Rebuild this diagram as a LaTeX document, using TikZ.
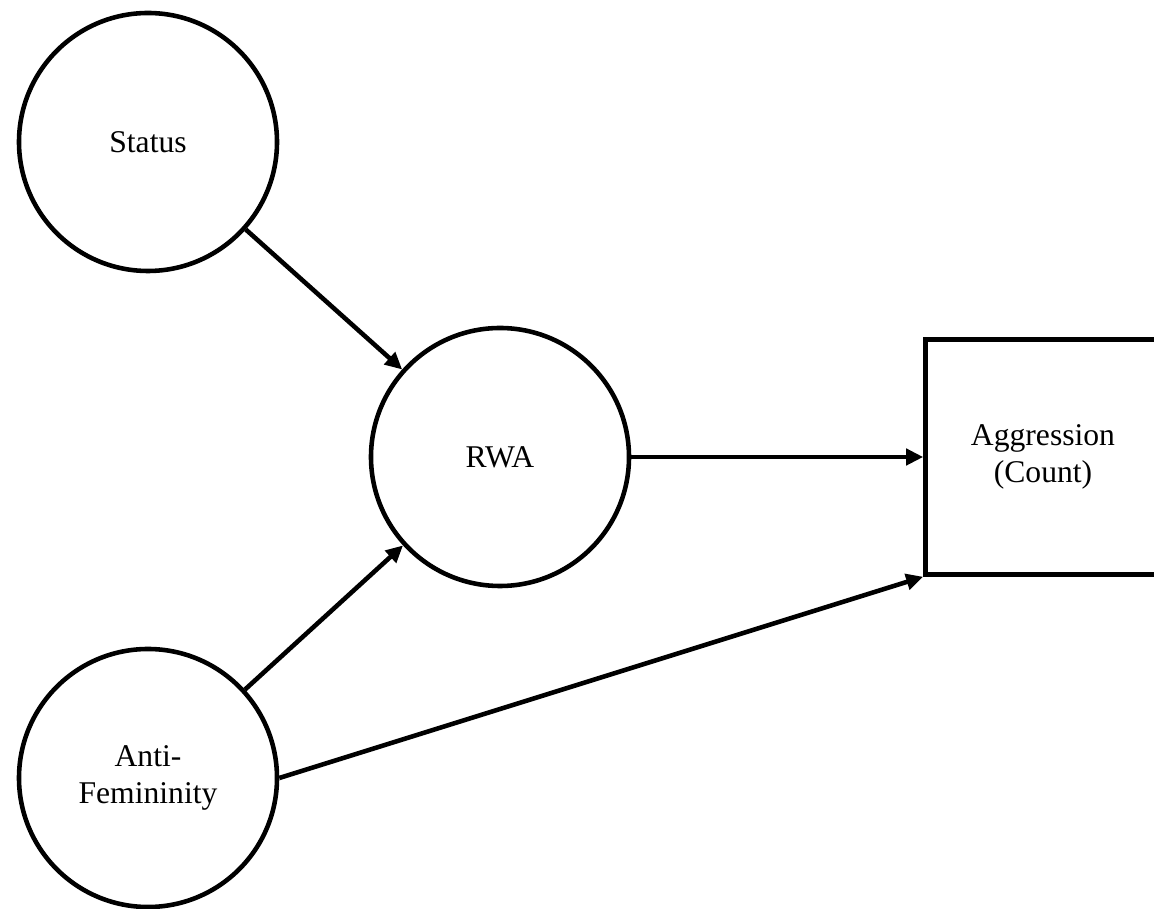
\documentclass[tikz,border=0pt]{standalone}
\usepackage{fontspec}
\setmainfont{Liberation Serif}
\usetikzlibrary{arrows.meta, positioning}

\begin{document}
\begin{tikzpicture}[
  latent/.style={circle, draw=black, line width=2.6pt, minimum size=5.16cm,
                 inner sep=0pt, align=center, font=\fontsize{18}{21.5}\selectfont},
  outcome/.style={rectangle, draw=black, line width=2.6pt, minimum width=4.7cm,
                  minimum height=4.7cm, align=center, font=\fontsize{18}{21.5}\selectfont},
  arr/.style={-{Triangle[length=3.4mm, width=3.2mm]}, line width=2.6pt}
]
\useasboundingbox (0,0) rectangle (23.08,18.18);
\clip (0,0) rectangle (23.08,18.18);

\node[latent] (status) at (2.96,15.34) {Status};
\node[latent] (rwa) at (10.0,9.04) {RWA};
\node[latent] (anti) at (2.96,2.62) {Anti-\\Femininity};
\node[outcome] (agg) at (20.86,9.04) {Aggression\\(Count)};

\draw[arr] (status) -- (rwa);
\draw[arr] (anti) -- (rwa);
\draw[arr] (rwa) -- (agg);
\draw[arr] (anti.east) -- (agg.south west);
\end{tikzpicture}
\end{document}
